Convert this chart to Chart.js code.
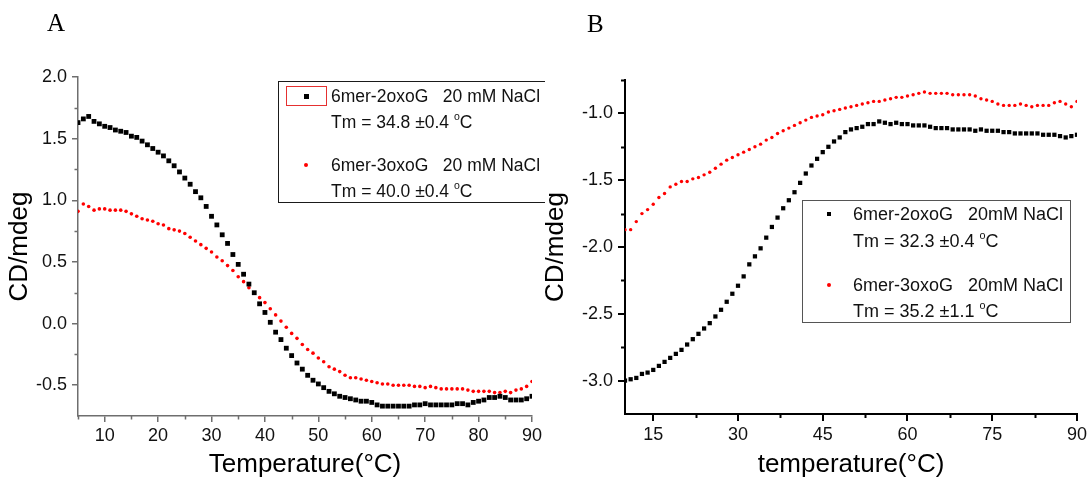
<!DOCTYPE html>
<html>
<head>
<meta charset="utf-8">
<title>CD melting curves</title>
<script src="https://cdn.jsdelivr.net/npm/chart.js"></script>
<style>
  body { margin: 0; background: #fff; }
  #page { position: relative; width: 1090px; height: 479px; }
  .panel { position: absolute; top: 0; width: 545px; height: 479px; overflow: hidden; }
  .panel canvas { position: absolute; left: 0; top: 0; }
  .tag { position: absolute; font-family: "Liberation Serif", "Times New Roman", serif; font-size: 25px; line-height: 25px; color: #000; }
  .lbox { position: absolute; box-sizing: border-box; }
  .ltxt { position: absolute; white-space: pre; line-height: 20px; color: #111; font-family: "Liberation Sans", Arial, sans-serif; }
  .ltxt sup { font-size: 0.6em; vertical-align: 0.75em; line-height: 0; }
  .mk { position: absolute; }
</style>
</head>
<body>
<div id="page">
  <div class="panel" id="pA" style="left:0">
    <canvas id="chartA" width="545" height="479"></canvas>
    <div class="tag" style="left:47px; top:10px">A</div>
    <div class="lbox" style="left:278px; top:81px; width:290px; height:122px; border:1.5px solid #1a1a1a"></div>
    <div class="mk" style="left:286px; top:86px; width:39px; height:18px; border:1px solid #e53030"></div>
    <div class="mk" style="left:304px; top:94px; width:5px; height:5px; background:#000"></div>
    <div class="mk" style="left:304px; top:163px; width:4px; height:4px; background:#f00; border-radius:50%"></div>
    <div class="ltxt" style="left:331px; top:86px; font-size:17.5px">6mer-2oxoG   20 mM NaCl</div>
    <div class="ltxt" style="left:331px; top:112px; font-size:17.5px">Tm = 34.8 &plusmn;0.4 <sup>o</sup>C</div>
    <div class="ltxt" style="left:331px; top:155px; font-size:17.5px">6mer-3oxoG   20 mM NaCl</div>
    <div class="ltxt" style="left:331px; top:181px; font-size:17.5px">Tm = 40.0 &plusmn;0.4 <sup>o</sup>C</div>
  </div>
  <div class="panel" id="pB" style="left:545px">
    <canvas id="chartB" width="545" height="479"></canvas>
    <div class="tag" style="left:42px; top:11px">B</div>
    <div class="lbox" style="left:257px; top:200px; width:269px; height:123px; border:1px solid #555"></div>
    <div class="mk" style="left:282px; top:212px; width:4px; height:4px; background:#000"></div>
    <div class="mk" style="left:282px; top:283px; width:4px; height:4px; background:#f00; border-radius:50%"></div>
    <div class="ltxt" style="left:308px; top:204px; font-size:18px">6mer-2oxoG   20mM NaCl</div>
    <div class="ltxt" style="left:308px; top:231px; font-size:18px">Tm = 32.3 &plusmn;0.4 <sup>o</sup>C</div>
    <div class="ltxt" style="left:308px; top:275px; font-size:18px">6mer-3oxoG   20mM NaCl</div>
    <div class="ltxt" style="left:308px; top:301px; font-size:18px">Tm = 35.2 &plusmn;1.1 <sup>o</sup>C</div>
  </div>
</div>

<script>
// Panel A data (20 mM NaCl)

var tempA = [5, 6, 7, 8, 9, 10, 11, 12, 13, 14, 15, 16, 17, 18, 19, 20, 21, 22, 23, 24,
  25, 26, 27, 28, 29, 30, 31, 32, 33, 34, 35, 36, 37, 38, 39, 40, 41, 42, 43, 44,
  45, 46, 47, 48, 49, 50, 51, 52, 53, 54, 55, 56, 57, 58, 59, 60, 61, 62, 63, 64,
  65, 66, 67, 68, 69, 70, 71, 72, 73, 74, 75, 76, 77, 78, 79, 80, 81, 82, 83, 84,
  85, 86, 87, 88, 89, 90];

var cd2oxoA = [1.63, 1.66, 1.68, 1.64, 1.62, 1.60, 1.59, 1.57, 1.56, 1.55,
  1.52, 1.51, 1.48, 1.45, 1.42, 1.39, 1.36, 1.32, 1.28, 1.23,
  1.18, 1.13, 1.07, 1.02, 0.95, 0.87, 0.80, 0.72, 0.65, 0.56,
  0.48, 0.40, 0.32, 0.25, 0.16, 0.09, 0.01, -0.07, -0.13, -0.20,
  -0.26, -0.32, -0.37, -0.42, -0.46, -0.49, -0.52, -0.55, -0.57, -0.59,
  -0.60, -0.61, -0.62, -0.63, -0.63, -0.64, -0.66, -0.67, -0.67, -0.67,
  -0.67, -0.67, -0.67, -0.66, -0.66, -0.65, -0.66, -0.66, -0.66, -0.66,
  -0.66, -0.65, -0.65, -0.66, -0.64, -0.63, -0.62, -0.60, -0.60, -0.59,
  -0.60, -0.62, -0.62, -0.62, -0.61, -0.59];

var cd3oxoA = [0.91, 0.97, 0.95, 0.92, 0.93, 0.93, 0.92, 0.92, 0.92, 0.91,
  0.89, 0.87, 0.85, 0.84, 0.83, 0.81, 0.80, 0.77, 0.76, 0.75,
  0.73, 0.70, 0.67, 0.64, 0.61, 0.58, 0.54, 0.51, 0.47, 0.43,
  0.38, 0.34, 0.29, 0.25, 0.21, 0.17, 0.12, 0.07, 0.02, -0.03,
  -0.08, -0.12, -0.17, -0.21, -0.24, -0.28, -0.31, -0.35, -0.37, -0.39,
  -0.42, -0.44, -0.44, -0.45, -0.46, -0.47, -0.48, -0.49, -0.49, -0.50,
  -0.50, -0.50, -0.50, -0.51, -0.51, -0.52, -0.51, -0.52, -0.53, -0.53,
  -0.53, -0.53, -0.53, -0.54, -0.55, -0.55, -0.55, -0.55, -0.56, -0.56,
  -0.55, -0.56, -0.54, -0.53, -0.51, -0.47];

var xTicksA = [10, 20, 30, 40, 50, 60, 70, 80, 90];
var xMinorA = [5, 15, 25, 35, 45, 55, 65, 75, 85];
var yTicksA = [-0.5, 0.0, 0.5, 1.0, 1.5, 2.0];
var yMinorA = [-0.25, 0.25, 0.75, 1.25, 1.75];

// Panel B data (20mM NaCl)

var tempB = [10, 11, 12, 13, 14, 15, 16, 17, 18, 19, 20, 21, 22, 23, 24, 25, 26, 27, 28, 29,
  30, 31, 32, 33, 34, 35, 36, 37, 38, 39, 40, 41, 42, 43, 44, 45, 46, 47, 48, 49,
  50, 51, 52, 53, 54, 55, 56, 57, 58, 59, 60, 61, 62, 63, 64, 65, 66, 67, 68, 69,
  70, 71, 72, 73, 74, 75, 76, 77, 78, 79, 80, 81, 82, 83, 84, 85, 86, 87, 88, 89, 90];

var cd2oxoB = [-3.00, -2.99, -2.98, -2.95, -2.94, -2.92, -2.89, -2.86, -2.83, -2.80,
  -2.77, -2.73, -2.69, -2.65, -2.61, -2.57, -2.52, -2.47, -2.41, -2.35,
  -2.29, -2.22, -2.13, -2.07, -2.01, -1.93, -1.85, -1.78, -1.71, -1.65,
  -1.59, -1.52, -1.45, -1.39, -1.34, -1.29, -1.25, -1.21, -1.18, -1.14,
  -1.12, -1.11, -1.10, -1.08, -1.08, -1.06, -1.07, -1.08, -1.07, -1.08,
  -1.08, -1.09, -1.09, -1.09, -1.10, -1.11, -1.11, -1.11, -1.12, -1.12,
  -1.12, -1.12, -1.13, -1.12, -1.13, -1.13, -1.13, -1.14, -1.14, -1.15,
  -1.15, -1.15, -1.15, -1.15, -1.16, -1.16, -1.16, -1.17, -1.18, -1.17, -1.16];

var cd3oxoB = [-1.87, -1.87, -1.81, -1.75, -1.72, -1.68, -1.63, -1.60, -1.55, -1.53,
  -1.51, -1.51, -1.49, -1.48, -1.46, -1.44, -1.41, -1.38, -1.35, -1.33,
  -1.31, -1.29, -1.27, -1.25, -1.23, -1.20, -1.18, -1.15, -1.13, -1.11,
  -1.09, -1.07, -1.05, -1.03, -1.02, -1.01, -0.99, -0.98, -0.97, -0.96,
  -0.95, -0.94, -0.93, -0.92, -0.91, -0.91, -0.90, -0.89, -0.88, -0.88,
  -0.87, -0.86, -0.85, -0.84, -0.85, -0.85, -0.85, -0.85, -0.86, -0.86,
  -0.86, -0.86, -0.87, -0.89, -0.90, -0.91, -0.93, -0.94, -0.94, -0.94,
  -0.93, -0.94, -0.95, -0.94, -0.94, -0.94, -0.92, -0.91, -0.93, -0.95, -0.91];

var xTicksB = [15, 30, 45, 60, 75, 90];
var xMinorB = [22.5, 37.5, 52.5, 67.5, 82.5];
var yTicksB = [-3.0, -2.5, -2.0, -1.5, -1.0];
var yMinorB = [-2.75, -2.25, -1.75, -1.25, -0.75];


Chart.defaults.font.family = "'Liberation Sans', Arial, sans-serif";

function points(xs, ys) {
  return xs.map(function (x, i) { return { x: x, y: ys[i] }; });
}

// small outward ticks between the labelled ones
function minorTicks(xs, ys, len, color, width) {
  return {
    id: 'minorTicks',
    afterDraw: function (chart) {
      var ctx = chart.ctx, sx = chart.scales.x, sy = chart.scales.y;
      var top = chart.chartArea.bottom, left = chart.chartArea.left;
      ctx.save();
      ctx.strokeStyle = color;
      ctx.lineWidth = width;
      ctx.beginPath();
      xs.forEach(function (v) {
        var px = Math.round(sx.getPixelForValue(v)) + 0.5;
        ctx.moveTo(px, top); ctx.lineTo(px, top + len);
      });
      ys.forEach(function (v) {
        var py = Math.round(sy.getPixelForValue(v)) + 0.5;
        ctx.moveTo(left, py); ctx.lineTo(left - len, py);
      });
      ctx.stroke();
      ctx.restore();
    }
  };
}

function cdChart(id, p) {
  return new Chart(document.getElementById(id), {
    type: 'scatter',
    data: {
      datasets: [
        {
          label: p.names[0],
          data: points(p.temps, p.black),
          pointStyle: 'rect',
          pointRadius: p.sq,
          pointBorderWidth: 0,
          backgroundColor: '#000'
        },
        {
          label: p.names[1],
          data: points(p.temps, p.red),
          pointStyle: 'circle',
          pointRadius: p.dot,
          pointBorderWidth: 0,
          backgroundColor: '#ff0000'
        }
      ]
    },
    options: {
      responsive: false,
      animation: false,
      devicePixelRatio: 1,
      events: [],
      layout: { padding: { top: p.top, right: p.right, left: 0, bottom: 0 } },
      plugins: { legend: { display: false }, tooltip: { enabled: false } },
      scales: {
        x: {
          type: 'linear',
          min: p.xMin, max: p.xMax,
          afterBuildTicks: function (s) { s.ticks = p.xTicks.map(function (v) { return { value: v }; }); },
          afterFit: function (s) { s.height = p.xH; },
          ticks: {
            color: '#111', padding: 3, maxRotation: 0, autoSkip: false,
            font: { size: 18 },
            callback: function (v) { return String(v); }
          },
          grid: { drawOnChartArea: false, tickLength: p.tick, color: p.axis, lineWidth: p.lw },
          border: { color: p.axis, width: p.lw },
          title: {
            display: true, text: p.xTitle, color: '#000',
            font: { size: 26, lineHeight: 1 }, padding: { top: 0, bottom: 1 }
          }
        },
        y: {
          min: p.yMin, max: p.yMax,
          afterBuildTicks: function (s) { s.ticks = p.yTicks.map(function (v) { return { value: v }; }); },
          afterFit: function (s) { s.width = p.yW; },
          ticks: {
            color: '#111', padding: 5,
            font: { size: 18 },
            callback: function (v) { return v.toFixed(1); }
          },
          grid: { drawOnChartArea: false, tickLength: p.tick, color: p.axis, lineWidth: p.lw },
          border: { color: p.axis, width: p.lw },
          title: {
            display: true, text: 'CD/mdeg', color: '#000',
            font: { size: 26, lineHeight: 1 }, padding: { top: p.yTitlePad, bottom: 0 }
          }
        }
      }
    },
    plugins: [minorTicks(p.xMinor, p.yMinor, p.minor, p.axis, p.lw)]
  });
}

var chartA = cdChart('chartA', {
  names: ['6mer-2oxoG 20 mM NaCl', '6mer-3oxoG 20 mM NaCl'],
  temps: tempA, black: cd2oxoA, red: cd3oxoA,
  xMin: 5, xMax: 90, yMin: -0.75, yMax: 2.0,
  xTicks: xTicksA, yTicks: yTicksA, xMinor: xMinorA, yMinor: yMinorA,
  xTitle: 'Temperature(\u00B0C)',
  top: 77, right: 11, xH: 63, yW: 78, yTitlePad: 7,
  axis: '#6e6e6e', lw: 1.5, tick: 6, minor: 3.5,
  sq: 3.4, dot: 1.8
});

var chartB = cdChart('chartB', {
  names: ['6mer-2oxoG 20mM NaCl', '6mer-3oxoG 20mM NaCl'],
  temps: tempB, black: cd2oxoB, red: cd3oxoB,
  xMin: 10, xMax: 90, yMin: -3.25, yMax: -0.75,
  xTicks: xTicksB, yTicks: yTicksB, xMinor: xMinorB, yMinor: yMinorB,
  xTitle: 'temperature(\u00B0C)',
  top: 80, right: 11, xH: 65, yW: 80, yTitlePad: -2,
  axis: '#000', lw: 2, tick: 7, minor: 4,
  sq: 3.0, dot: 1.7
});
</script>
</body>
</html>
